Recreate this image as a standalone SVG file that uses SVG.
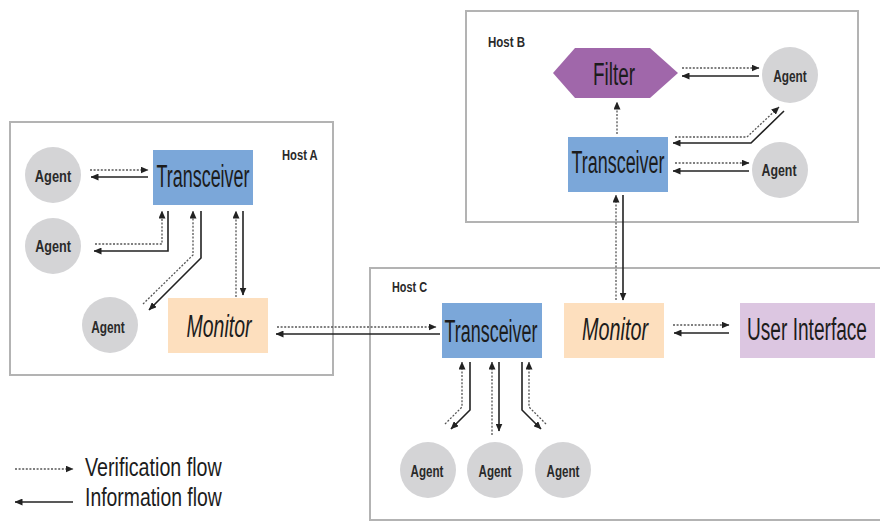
<svg xmlns="http://www.w3.org/2000/svg" width="880" height="522" viewBox="0 0 880 522">
<style>
.host{fill:#fff;stroke:#b3b3b3;stroke-width:2}
.agent{fill:#d4d4d6}
.trx{fill:#7ba7d9}
.mon{fill:#fddfbe}
.ui{fill:#dcc6e1}
.flt{fill:#a067aa}
text{font-family:"Liberation Sans","DejaVu Sans",sans-serif;fill:#1c1c1c}
.big{font-size:31px}
.lg{font-size:26px}
.ag{font-size:17px;font-weight:bold;fill:#2a2a2a}
.hl{font-size:14px;font-weight:bold;fill:#2a2a2a}
.it{font-style:italic}
.ver{fill:none;stroke:#555;stroke-width:1.3;stroke-dasharray:2 1.6;marker-end:url(#ah)}
.inf{fill:none;stroke:#222;stroke-width:1.6;marker-end:url(#ah)}
</style>
<defs>
<marker id="ah" markerUnits="userSpaceOnUse" markerWidth="8" markerHeight="7" refX="7.5" refY="3.5" orient="auto">
<path d="M0,0 L8,3.5 L0,7 z" fill="#222"/>
</marker>
</defs>
<rect width="880" height="522" fill="#fff"/>
<g id="hostA"><rect class="host" x="10" y="122" width="323" height="253"/><text class="hl" transform="translate(282,160) scale(0.7,1)" textLength="51" lengthAdjust="spacingAndGlyphs">Host A</text></g>
<g id="hostB"><rect class="host" x="466" y="11" width="392" height="211"/><text class="hl" transform="translate(488,47) scale(0.7,1)" textLength="53" lengthAdjust="spacingAndGlyphs">Host B</text></g>
<g id="hostC"><rect class="host" x="370" y="268" width="520" height="252"/><text class="hl" transform="translate(392,292) scale(0.7,1)" textLength="50" lengthAdjust="spacingAndGlyphs">Host C</text></g>

<g id="agentA1"><circle class="agent" cx="53" cy="175" r="28"/><text class="ag" transform="translate(53,182) scale(0.7,1)" text-anchor="middle" textLength="52" lengthAdjust="spacingAndGlyphs">Agent</text></g>
<g id="agentA2"><circle class="agent" cx="53" cy="246" r="28"/><text class="ag" transform="translate(53,252) scale(0.7,1)" text-anchor="middle" textLength="51" lengthAdjust="spacingAndGlyphs">Agent</text></g>
<g id="agentA3"><circle class="agent" cx="110" cy="325" r="28"/><text class="ag" transform="translate(108,333) scale(0.7,1)" text-anchor="middle" textLength="48" lengthAdjust="spacingAndGlyphs">Agent</text></g>
<g id="transceiverA"><rect class="trx" x="153" y="150" width="100" height="55"/><text class="big" transform="translate(203,187) scale(0.6,1)" text-anchor="middle" textLength="155" lengthAdjust="spacingAndGlyphs">Transceiver</text></g>
<g id="monitorA"><rect class="mon" x="168" y="298" width="100" height="55"/><text class="big it" transform="translate(219,337) scale(0.6,1)" text-anchor="middle" textLength="108" lengthAdjust="spacingAndGlyphs">Monitor</text></g>

<g id="filter"><polygon class="flt" points="553,73 575,48 650,48 678,73 650,98 575,98"/><text class="big" transform="translate(614,85) scale(0.6,1)" text-anchor="middle" textLength="70" lengthAdjust="spacingAndGlyphs">Filter</text></g>
<g id="agentB1"><circle class="agent" cx="790" cy="75" r="28"/><text class="ag" transform="translate(790,82) scale(0.7,1)" text-anchor="middle" textLength="48" lengthAdjust="spacingAndGlyphs">Agent</text></g>
<g id="transceiverB"><rect class="trx" x="568" y="137" width="100" height="55"/><text class="big" transform="translate(618,173) scale(0.6,1)" text-anchor="middle" textLength="155" lengthAdjust="spacingAndGlyphs">Transceiver</text></g>
<g id="agentB2"><circle class="agent" cx="780" cy="170" r="28"/><text class="ag" transform="translate(779,176) scale(0.7,1)" text-anchor="middle" textLength="50" lengthAdjust="spacingAndGlyphs">Agent</text></g>

<g id="transceiverC"><rect class="trx" x="442" y="303" width="100" height="55"/><text class="big" transform="translate(491,342) scale(0.6,1)" text-anchor="middle" textLength="155" lengthAdjust="spacingAndGlyphs">Transceiver</text></g>
<g id="monitorC"><rect class="mon" x="564" y="303" width="100" height="55"/><text class="big it" transform="translate(615,340) scale(0.6,1)" text-anchor="middle" textLength="110" lengthAdjust="spacingAndGlyphs">Monitor</text></g>
<g id="userInterface"><rect class="ui" x="740" y="303" width="135" height="55"/><text class="big" transform="translate(807,340) scale(0.6,1)" text-anchor="middle" textLength="200" lengthAdjust="spacingAndGlyphs">User Interface</text></g>
<g id="agentC1"><circle class="agent" cx="428" cy="470" r="28"/><text class="ag" transform="translate(427,477) scale(0.7,1)" text-anchor="middle" textLength="47" lengthAdjust="spacingAndGlyphs">Agent</text></g>
<g id="agentC2"><circle class="agent" cx="495" cy="470" r="28"/><text class="ag" transform="translate(495,477) scale(0.7,1)" text-anchor="middle" textLength="47" lengthAdjust="spacingAndGlyphs">Agent</text></g>
<g id="agentC3"><circle class="agent" cx="563" cy="470" r="28"/><text class="ag" transform="translate(563,477) scale(0.7,1)" text-anchor="middle" textLength="47" lengthAdjust="spacingAndGlyphs">Agent</text></g>

<g id="connectors">
<path class="ver" d="M90,170 H148"/>
<path class="inf" d="M148,177 H91"/>
<path class="ver" d="M95,244 H162 V211"/>
<path class="inf" d="M168,211 V251 H94"/>
<path class="ver" d="M143,304 L193,255 V211"/>
<path class="inf" d="M201,211 V258 L149,310"/>
<path class="ver" d="M236,297 V211"/>
<path class="inf" d="M243,211 V295"/>
<path class="ver" d="M277,327 H436"/>
<path class="inf" d="M440,334 H276"/>
<path class="ver" d="M682,68 H759"/>
<path class="inf" d="M759,76 H682"/>
<path class="ver" d="M617,134 V102"/>
<path class="ver" d="M675,137 H747 L779,107"/>
<path class="inf" d="M784,111 L751,143 H673"/>
<path class="ver" d="M675,163 H749"/>
<path class="inf" d="M749,171 H673"/>
<path class="ver" d="M616,300 V195"/>
<path class="inf" d="M623,195 V300"/>
<path class="ver" d="M673,325 H729"/>
<path class="inf" d="M729,333 H674"/>
<path class="ver" d="M445,424 L462,407 V362"/>
<path class="inf" d="M470,362 V410 L451,429"/>
<path class="ver" d="M492,435 V362"/>
<path class="inf" d="M499,362 V431"/>
<path class="ver" d="M546,424 L529,407 V362"/>
<path class="inf" d="M522,362 V410 L541,429"/>
</g>

<g id="legend">
<path class="ver" d="M15,469 H73"/>
<path class="inf" d="M73,502 H15"/>
<text class="lg" transform="translate(85,476) scale(0.6,1)" textLength="228" lengthAdjust="spacingAndGlyphs">Verification flow</text>
<text class="lg" transform="translate(85,506) scale(0.6,1)" textLength="228" lengthAdjust="spacingAndGlyphs">Information flow</text>
</g>
</svg>
